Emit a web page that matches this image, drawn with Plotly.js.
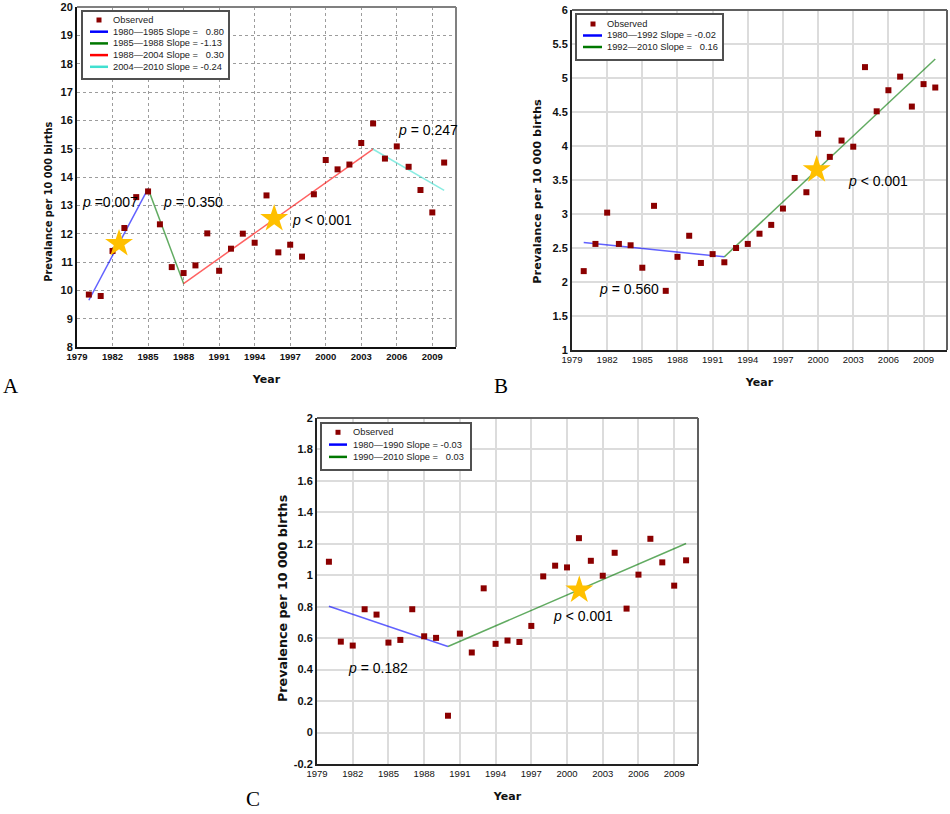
<!DOCTYPE html>
<html><head><meta charset="utf-8">
<script src="https://cdn.plot.ly/plotly-3.0.1.min.js"></script>
<style>html,body{margin:0;padding:0;background:#fff}#chart{width:950px;height:814px}</style>
</head><body><div id="chart"></div>
<script>
// ---------- data ----------
const years = [1980,1981,1982,1983,1984,1985,1986,1987,1988,1989,1990,1991,1992,1993,1994,1995,1996,1997,1998,1999,2000,2001,2002,2003,2004,2005,2006,2007,2008,2009,2010];
const xTickVals = [1979,1982,1985,1988,1991,1994,1997,2000,2003,2006,2009];

// Panel A
const aObserved = [9.85,9.80,11.39,12.20,13.29,13.49,12.33,10.82,10.61,10.88,12.01,10.69,11.47,12.00,11.68,13.35,11.34,11.61,11.19,13.39,14.60,14.27,14.44,15.20,15.89,14.65,15.08,14.36,13.54,12.75,14.51];
const aJoinYears = [1980,1985,1988,2004,2010];
const aJoinFit = [9.65,13.59,10.24,14.98,13.53];
const aSlopes = [0.80,-1.13,0.30,-0.24];
const aStarYears = [1982.55,1995.65];
const aStarValues = [11.65,12.53];
const aPTexts = ['<i>p</i> =0.007','<i>p</i> = 0.350','<i>p</i> &lt; 0.001','<i>p</i> = 0.247'];
const aPYears = [1979.25,1986.1,1997.0,2005.97];
const aPValues = [13.12,13.12,12.47,15.65];
const aYTickVals = [8,9,10,11,12,13,14,15,16,17,18,19,20];
const aYTickText = ['8','9','10','11','12','13','14','15','16','17','18','19','20'];

// Panel B
const bObserved = [2.16,2.56,3.02,2.56,2.54,2.21,3.12,1.87,2.37,2.68,2.28,2.41,2.29,2.50,2.56,2.71,2.84,3.08,3.53,3.32,4.18,3.84,4.08,3.99,5.16,4.51,4.82,5.02,4.58,4.91,4.86];
const bJoinYears = [1980,1992,2010];
const bJoinFit = [2.58,2.37,5.28];
const bSlopes = [-0.02,0.16];
const bStarYears = [1999.88];
const bStarValues = [3.65];
const bPTexts = ['<i>p</i> = 0.560','<i>p</i> &lt; 0.001'];
const bPYears = [1981.13,2002.4];
const bPValues = [1.90,3.48];
const bYTickVals = [1,1.5,2,2.5,3,3.5,4,4.5,5,5.5,6];
const bYTickText = ['1','1.5','2','2.5','3','3.5','4','4.5','5','5.5','6'];

// Panel C
const cObserved = [1.086,0.578,0.553,0.784,0.750,0.572,0.589,0.784,0.612,0.602,0.107,0.629,0.509,0.917,0.564,0.585,0.576,0.678,0.993,1.061,1.050,1.236,1.092,0.997,1.143,0.788,1.004,1.232,1.082,0.934,1.095];
const cJoinYears = [1980,1990,2010];
const cJoinFit = [0.803,0.547,1.202];
const cSlopes = [-0.03,0.03];
const cStarYears = [2001.03];
const cStarValues = [0.906];
const cPTexts = ['<i>p</i> = 0.182','<i>p</i> &lt; 0.001'];
const cPYears = [1981.46,1998.68];
const cPValues = [0.413,0.741];
const cYTickVals = [-0.2,0,0.2,0.4,0.6,0.8,1,1.2,1.4,1.6,1.8,2];
const cYTickText = ['-0.2','0','0.2','0.4','0.6','0.8','1','1.2','1.4','1.6','1.8','2'];

// ---------- styling / geometry ----------
const W = 950, H = 814;
const px = x => x / W;
const py = y => 1 - y / H;
const segColors4 = ['#0000ff','#007800','#ff0000','#40e0d0'];
const segColors2 = ['#0000ff','#007800'];

const panels = [
  {id:'', obs:aObserved, jy:aJoinYears, jf:aJoinFit, slopes:aSlopes, colors:segColors4,
   sx:aStarYears, sy:aStarValues, pt:aPTexts, pxv:aPYears, pyv:aPValues,
   range:[8,20], tv:aYTickVals, tt:aYTickText,
   box:{x0:77,x1:456,y0:7,y1:347}, grid:{color:'#9c9c9c',dash:'dot',width:1},
   axisColor:'#111', frameColor:'#808080', xBold:true,
   ytitle:'Prevalance per 10 000 births', ytPos:[47.7,202], ytSize:9.8,
   letter:'A', letterPos:[11,386],
   leg:{l:82,r:229,t:11,b:79,rows:[20,31.7,43.4,55.1,66.8],s0:90,s1:108,m:99,tx:111}},
  {id:'2', obs:bObserved, jy:bJoinYears, jf:bJoinFit, slopes:bSlopes, colors:segColors2,
   sx:bStarYears, sy:bStarValues, pt:bPTexts, pxv:bPYears, pyv:bPValues,
   range:[1,6], tv:bYTickVals, tt:bYTickText,
   box:{x0:572,x1:947,y0:10,y1:350}, grid:{color:'#dcdcdc',dash:'solid',width:2},
   axisColor:'#222', frameColor:'#606060', xBold:false,
   ytitle:'Prevalance per 10 000 births', ytPos:[536.7,191], ytSize:11.3,
   letter:'B', letterPos:[501,386],
   leg:{l:576,r:723,t:14,b:60,rows:[24,35.5,47],s0:583,s1:602,m:593,tx:605}},
  {id:'3', obs:cObserved, jy:cJoinYears, jf:cJoinFit, slopes:cSlopes, colors:segColors2,
   sx:cStarYears, sy:cStarValues, pt:cPTexts, pxv:cPYears, pyv:cPValues,
   range:[-0.2,2], tv:cYTickVals, tt:cYTickText,
   box:{x0:317,x1:698,y0:418,y1:764}, grid:{color:'#dcdcdc',dash:'solid',width:2},
   axisColor:'#222', frameColor:'#606060', xBold:false,
   ytitle:'Prevalence per 10 000 births', ytPos:[282,599], ytSize:12.7,
   letter:'C', letterPos:[253,799],
   leg:{l:321,r:471,t:423,b:470,rows:[432.3,444.6,456.9],s0:329,s1:347,m:338,tx:351}}
];

const traces = [];
const shapes = [];
const annotations = [];
const layout = {
  width: W, height: H,
  margin: {l:0, r:0, t:0, b:0},
  paper_bgcolor: '#ffffff', plot_bgcolor: '#ffffff',
  showlegend: false,
  font: {family: 'Liberation Sans, Arial, sans-serif', color: '#000'}
};

panels.forEach(p => {
  const xa = 'x' + p.id, ya = 'y' + p.id;
  const xKey = 'xaxis' + p.id, yKey = 'yaxis' + p.id;
  // fitted segments
  for (let i = 0; i < p.jy.length - 1; i++) {
    traces.push({
      type:'scatter', mode:'lines', xaxis:xa, yaxis:ya,
      name: p.jy[i] + '—' + p.jy[i+1],
      x:[p.jy[i], p.jy[i+1]], y:[p.jf[i], p.jf[i+1]],
      line:{color:p.colors[i], width:1.5}, opacity:0.62, hoverinfo:'skip'
    });
  }
  // observed
  traces.push({
    type:'scatter', mode:'markers', xaxis:xa, yaxis:ya, name:'Observed',
    x:years, y:p.obs,
    marker:{symbol:'square', size:6, color:'#8b0000'}
  });
  // stars
  traces.push({
    type:'scatter', mode:'markers', xaxis:xa, yaxis:ya, name:'star',
    x:p.sx, y:p.sy,
    marker:{symbol:'star', size:21, color:'#ffc000', line:{width:0}}
  });

  layout[xKey] = {
    domain:[px(p.box.x0), px(p.box.x1)], range:[1979, 2011], anchor:ya,
    tickmode:'array', tickvals:xTickVals, ticktext:xTickVals.map(String), ticks:'',
    showgrid:true, gridcolor:p.grid.color, griddash:p.grid.dash, gridwidth:p.grid.width,
    zeroline:false, showline:true, linecolor:p.axisColor, linewidth:2,
    tickfont:{family:'Liberation Sans, Arial, sans-serif', size:9.5, color:'#111', weight:p.xBold?'bold':'normal'},
    title:{text:'Year', font:{family:'DejaVu Sans, Verdana, sans-serif', size:11, weight:'bold', color:'#111'}, standoff:14},
    fixedrange:true
  };
  layout[yKey] = {
    domain:[py(p.box.y1), py(p.box.y0)], range:p.range, anchor:xa,
    tickmode:'array', tickvals:p.tv, ticktext:p.tt, ticks:'',
    showgrid:true, gridcolor:p.grid.color, griddash:p.grid.dash, gridwidth:p.grid.width,
    zeroline:false, showline:true, linecolor:p.axisColor, linewidth:2,
    tickfont:{family:'Liberation Sans, Arial, sans-serif', size:11, color:'#111', weight:'bold'},
    fixedrange:true
  };
  // top & right frame
  shapes.push({type:'line', xref:xa+' domain', yref:ya+' domain', x0:0, x1:1, y0:1, y1:1,
               line:{color:p.frameColor, width:2}});
  shapes.push({type:'line', xref:xa+' domain', yref:ya+' domain', x0:1, x1:1, y0:0, y1:1,
               line:{color:p.frameColor, width:2}});

  // p-value annotations
  p.pt.forEach((t, i) => annotations.push({
    xref:xa, yref:ya, x:p.pxv[i], y:p.pyv[i], text:t, showarrow:false,
    xanchor:'left', yanchor:'middle',
    font:{family:'Liberation Sans, Arial, sans-serif', size:14, color:'#000'}
  }));
  // y title
  annotations.push({
    xref:'paper', yref:'paper', x:px(p.ytPos[0]), y:py(p.ytPos[1]), text:p.ytitle,
    textangle:-90, showarrow:false, xanchor:'center', yanchor:'middle',
    font:{family:'DejaVu Sans, Verdana, sans-serif', size:p.ytSize, weight:'bold', color:'#111'}
  });
  // panel letter
  annotations.push({
    xref:'paper', yref:'paper', x:px(p.letterPos[0]), y:py(p.letterPos[1]), text:p.letter,
    showarrow:false, xanchor:'center', yanchor:'middle',
    font:{family:'Liberation Serif, Times New Roman, serif', size:21, color:'#000'}
  });

  // legend box
  const L = p.leg;
  shapes.push({type:'rect', xref:'paper', yref:'paper', x0:px(L.l), x1:px(L.r), y0:py(L.b), y1:py(L.t),
               fillcolor:'#ffffff', line:{color:'#505050', width:2}});
  // Observed row
  shapes.push({type:'rect', xref:'paper', yref:'paper',
               x0:px(L.m-2.5), x1:px(L.m+2.5), y0:py(L.rows[0]+2.5), y1:py(L.rows[0]-2.5),
               fillcolor:'#8b0000', line:{width:0}});
  const legTexts = ['Observed'];
  p.slopes.forEach((s, i) => {
    legTexts.push(p.jy[i] + '—' + p.jy[i+1] + ' Slope = ' + (s >= 0 ? '\u2007' : '') + s.toFixed(2));
    shapes.push({type:'line', xref:'paper', yref:'paper',
                 x0:px(L.s0), x1:px(L.s1), y0:py(L.rows[i+1]), y1:py(L.rows[i+1]),
                 line:{color:p.colors[i], width:2.5}});
  });
  legTexts.forEach((t, i) => annotations.push({
    xref:'paper', yref:'paper', x:px(L.tx), y:py(L.rows[i]), text:t, showarrow:false,
    xanchor:'left', yanchor:'middle',
    font:{family:'Liberation Sans, Arial, sans-serif', size:9.3, color:'#222'}
  }));
});

layout.shapes = shapes;
layout.annotations = annotations;

Plotly.newPlot('chart', traces, layout, {displayModeBar:false, staticPlot:true});
</script>
</body></html>
